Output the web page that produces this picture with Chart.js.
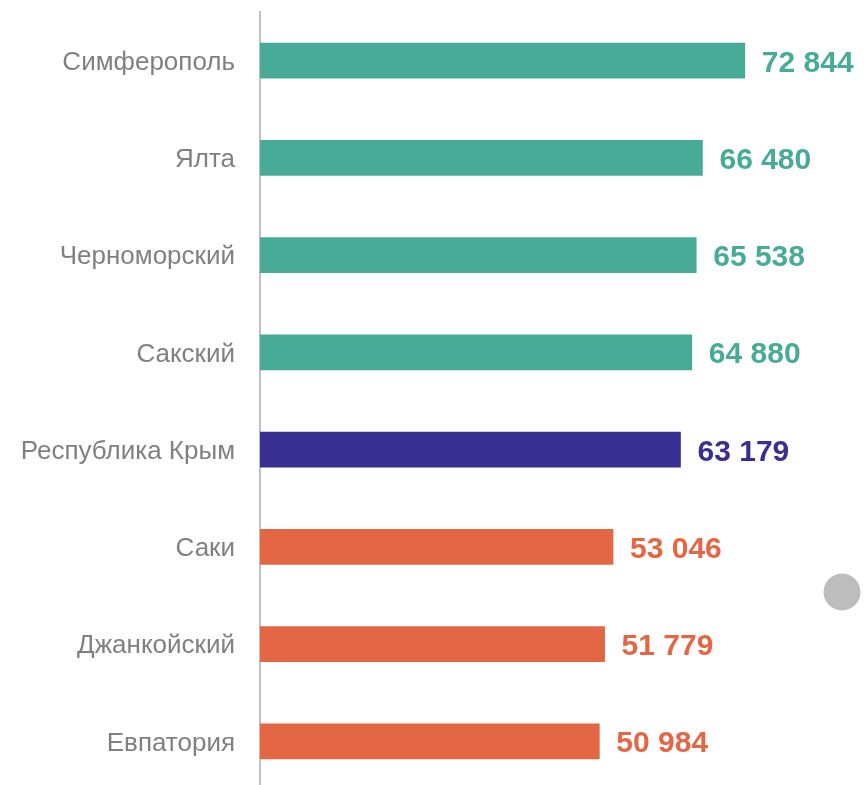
<!DOCTYPE html>
<html>
<head>
<meta charset="utf-8">
<script src="https://cdn.jsdelivr.net/npm/chart.js@4/dist/chart.umd.min.js"></script>
<style>
html,body{margin:0;padding:0;background:#fff;overflow:hidden;}
#wrap{position:relative;width:864px;height:790px;}
</style>
</head>
<body>
<div id="wrap"><canvas id="c"></canvas></div>
<script>
const categories = ["Симферополь","Ялта","Черноморский","Сакский","Республика Крым","Саки","Джанкойский","Евпатория"];
const values = [72844, 66480, 65538, 64880, 63179, 53046, 51779, 50984];
const groups = ["high","high","high","high","region","low","low","low"];
const palette = {high:"#47AB97", region:"#372F91", low:"#E36744"};
const colors = groups.map(g => palette[g]);

const fmt = v => String(v).replace(/\B(?=(\d{3})+(?!\d))/g, " ");

const valueLabels = {
  id: "valueLabels",
  afterDatasetsDraw(chart) {
    const ctx = chart.ctx;
    const meta = chart.getDatasetMeta(0);
    ctx.save();
    ctx.font = "bold 30px 'Liberation Sans', Arial, sans-serif";
    ctx.textAlign = "left";
    ctx.textBaseline = "alphabetic";
    meta.data.forEach((bar, i) => {
      ctx.fillStyle = colors[i];
      ctx.fillText(fmt(values[i]), bar.x + 17, bar.y + 11);
    });
    ctx.restore();
  },
  afterDraw(chart) {
    const ctx = chart.ctx;
    ctx.save();
    ctx.fillStyle = "#bdbdbd";
    ctx.beginPath();
    ctx.arc(842, 592, 18.5, 0, Math.PI * 2);
    ctx.fill();
    ctx.restore();
  }
};

new Chart(document.getElementById("c"), {
  type: "bar",
  data: {
    labels: categories,
    datasets: [{
      data: values,
      backgroundColor: colors,
      barThickness: 35,
      borderWidth: 0
    }]
  },
  options: {
    indexAxis: "y",
    responsive: true,
    maintainAspectRatio: false,
    animation: false,
    layout: { padding: { top: 12, right: 5, bottom: 0, left: 0 } },
    plugins: { legend: { display: false }, tooltip: { enabled: false } },
    scales: {
      x: {
        display: false,
        min: 0,
        max: 90000
      },
      y: {
        grid: { display: false, drawTicks: false },
        border: { display: true, color: "#c0c0c0", width: 2 },
        ticks: {
          color: "#808080",
          padding: 25,
          labelOffset: 2,
          font: { family: "'Liberation Sans', Arial, sans-serif", size: 26 }
        },
        afterFit(scale) {
          scale.width = 260;
          scale.paddingTop = 0;
          scale.paddingBottom = 0;
        }
      }
    }
  },
  plugins: [valueLabels]
});
</script>
</body>
</html>
